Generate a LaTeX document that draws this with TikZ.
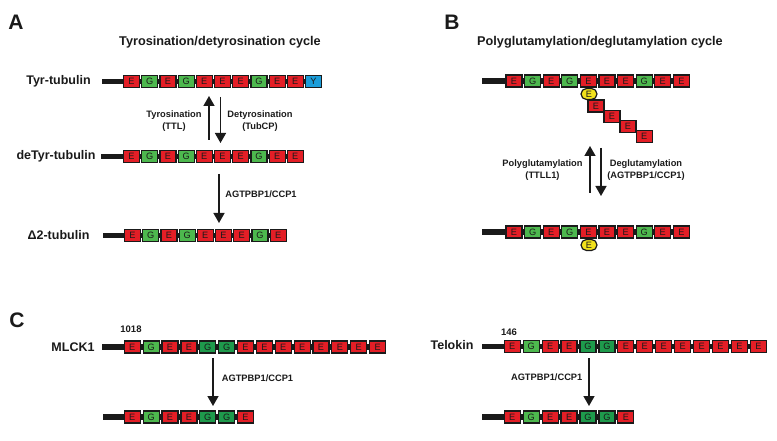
\documentclass[tikz,border=0pt]{standalone}
\usepackage{fontspec}
\setmainfont{Liberation Sans}
\usetikzlibrary{arrows.meta}
\definecolor{ered}{HTML}{E31E26}
\definecolor{ggreen}{HTML}{4DB84E}
\definecolor{dgreen}{HTML}{1E9A4C}
\definecolor{yblue}{HTML}{1B9DD9}
\definecolor{yyel}{HTML}{F2E21C}
\definecolor{ink}{HTML}{1A1A1A}
\tikzset{
  box/.style={draw=ink, line width=1.2pt, minimum width=16pt, minimum height=12pt, inner sep=0pt,
    font=\fontsize{9.2}{9}\selectfont, text=ink},
  bE/.style={fill=ered, node contents=E},
  bG/.style={fill=ggreen, node contents=G},
  bD/.style={fill=dgreen, node contents=G},
  bY/.style={fill=yblue, node contents=Y},
  bar/.style={draw=ink, line width=5.5pt},
  ybead/.style={draw=ink, line width=1.2pt, fill=yyel, rounded corners=5.5pt, minimum width=16pt,
    minimum height=11pt, inner sep=0pt, font=\fontsize{9.2}{9}\selectfont, text=ink, node contents=E},
  rowlabel/.style={font=\fontsize{12.5}{14}\selectfont\bfseries, text=ink},
  titletext/.style={font=\fontsize{12.7}{14}\selectfont\bfseries, text=ink},
  panel/.style={font=\fontsize{21}{22}\selectfont\bfseries, text=ink},
  small/.style={font=\fontsize{9.3}{11.7}\selectfont\bfseries, align=center, text=ink},
  num/.style={font=\fontsize{9.5}{11}\selectfont\bfseries, text=ink},
  arr/.style={draw=ink, line width=1.5pt, -{Triangle[width=11pt,length=10pt]}},
}
% #1 name, #2 stem start x, #3 first box centre x, #4 y, #5 pitch, #6 list of box styles
\newcommand\chainrow[6]{%
  \foreach \s [count=\i] in {#6} {
    \pgfmathsetmacro\cx{#3+(\i-1)*#5}
    \ifnum\i=1 \draw[bar] (#2,#4) -- (\cx,#4); \else \draw[bar] (\cx-#5,#4) -- (\cx,#4); \fi
  }
  \foreach \s [count=\i] in {#6} {
    \pgfmathsetmacro\cx{#3+(\i-1)*#5}
    \node (#1-\i) at (\cx,#4) [box,b\s];
  }
}
\begin{document}
\begin{tikzpicture}[x=1pt,y=-1pt]
\useasboundingbox (0,0) rectangle (777,441);
% ---------- Panel A ----------
\node[panel] (pA) at (16,22) {A};
\node[titletext] (tA) at (220,42) {Tyrosination/detyrosination cycle};
\node[rowlabel] (lTyr) at (58.5,81) {Tyr-tubulin};
\node[rowlabel] (lDeTyr) at (56,156.5) {deTyr-tubulin};
\node[rowlabel] (lD2) at (58.5,235.5) {Δ2-tubulin};
\chainrow{ty}{102}{131.5}{81.5}{18.2}{E,G,E,G,E,E,E,G,E,E,Y}
\chainrow{dt}{101}{131.5}{156.5}{18.2}{E,G,E,G,E,E,E,G,E,E}
\chainrow{dd}{103}{132.5}{235.5}{18.2}{E,G,E,G,E,E,E,G,E}
\coordinate (a1s) at (209,140); \coordinate (a1e) at (209,96);
\coordinate (a2s) at (220.5,97); \coordinate (a2e) at (220.5,143);
\coordinate (a3s) at (219,174); \coordinate (a3e) at (219,223);
\draw[arr] (a1s) -- (a1e);
\draw[arr] (a2s) -- (a2e);
\draw[arr] (a3s) -- (a3e);
\node[small] (tyrl) at (174,121) {Tyrosination\\(TTL)};
\node[small] (detl) at (260,121) {Detyrosination\\(TubCP)};
\node[small] (ccpA) at (261,194) {AGTPBP1/CCP1};
% ---------- Panel B ----------
\node[panel] (pB) at (452,22) {B};
\node[titletext] (tB) at (600,42) {Polyglutamylation/deglutamylation cycle};
\chainrow{pg}{482}{514}{81}{18.6}{E,G,E,G,E,E,E,G,E,E}
\node (y1) at (589,94) [ybead];
\node (s1) at (596,106) [box,bE];
\node (s2) at (612,116.5) [box,bE];
\node (s3) at (628,126.7) [box,bE];
\node (s4) at (644.3,136.7) [box,bE];
\chainrow{dg}{482}{514}{232}{18.6}{E,G,E,G,E,E,E,G,E,E}
\node (y2) at (589,245) [ybead];
\coordinate (b1s) at (590,193); \coordinate (b1e) at (590,146);
\coordinate (b2s) at (601,148); \coordinate (b2e) at (601,196);
\draw[arr] (b1s) -- (b1e);
\draw[arr] (b2s) -- (b2e);
\node[small] (polyl) at (542.5,170) {Polyglutamylation\\(TTLL1)};
\node[small] (degl) at (646,170) {Deglutamylation\\(AGTPBP1/CCP1)};
% ---------- Panel C ----------
\node[panel] (pC) at (17,320) {C};
\node[num] (n1018) at (131,329) {1018};
\node[rowlabel] (lM) at (73,347) {MLCK1};
\chainrow{mk}{102}{132.3}{347}{18.87}{E,G,E,E,D,D,E,E,E,E,E,E,E,E}
\chainrow{mkc}{103}{132.3}{417}{18.87}{E,G,E,E,D,D,E}
\coordinate (c1s) at (213,358); \coordinate (c1e) at (213,406);
\draw[arr] (c1s) -- (c1e);
\node[small] (ccpC1) at (257.5,378) {AGTPBP1/CCP1};
\node[num] (n146) at (509,332) {146};
\node[rowlabel] (lT) at (452,345.5) {Telokin};
\chainrow{tk}{482}{512.3}{346.7}{18.93}{E,G,E,E,D,D,E,E,E,E,E,E,E,E}
\chainrow{tkc}{482}{512.3}{417}{18.93}{E,G,E,E,D,D,E}
\coordinate (c2s) at (589,358); \coordinate (c2e) at (589,406);
\draw[arr] (c2s) -- (c2e);
\node[small] (ccpC2) at (546.7,377.7) {AGTPBP1/CCP1};
\end{tikzpicture}
\end{document}
